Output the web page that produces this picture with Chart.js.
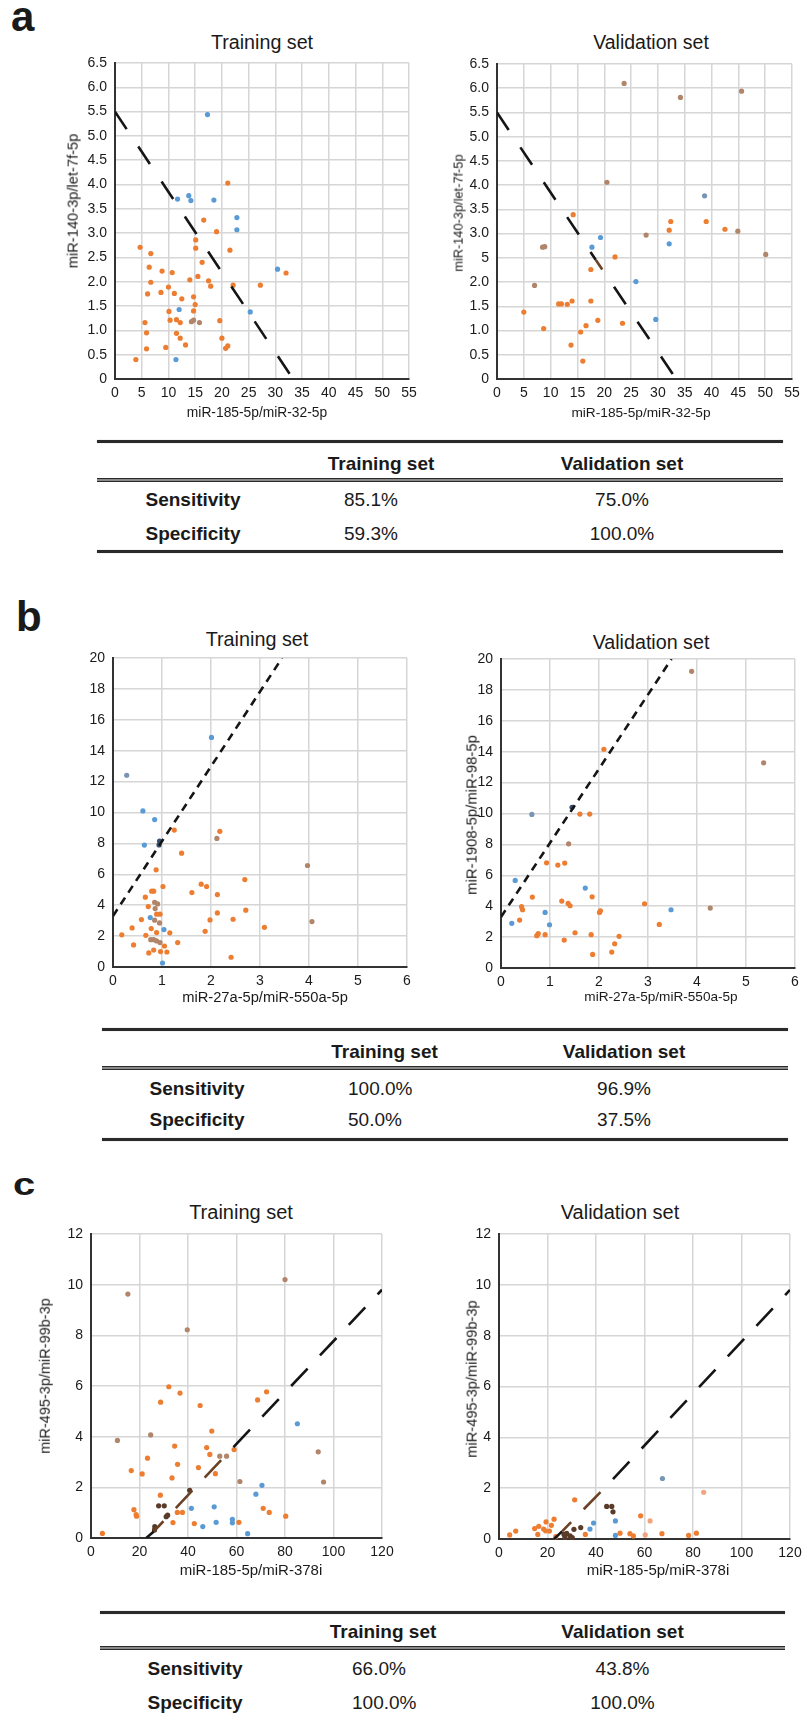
<!DOCTYPE html>
<html><head><meta charset="utf-8">
<script src="https://cdn.jsdelivr.net/npm/chart.js@4.4.1/dist/chart.umd.min.js"></script>
<style>
html,body{margin:0;padding:0;background:#fff}
#page{position:relative;width:802px;height:1718px;overflow:hidden;background:#fff;font-family:"Liberation Sans",Arial,sans-serif;color:#1a1a1a}
#page canvas{position:absolute}
.t{position:absolute;white-space:nowrap;line-height:1}
.hl{position:absolute;box-sizing:border-box}
</style>
</head><body><div id="page"></div>
<script>
// ---------------- DATA ----------------
// Tick labels
const aXTicks = ['0','5','10','15','20','25','30','35','40','45','50','55'];
const aYTicksTrain = ['0','0.5','1.0','1.5','2.0','2.5','3.0','3.5','4.0','4.5','5.0','5.5','6.0','6.5'];
const aYTicksVal = ['0','0.5','1.0','1.5','2.0','5','3.0','3.5','4.0','4.5','5.0','5.5','6.0','6.5'];
const bXTicks = ['0','1','2','3','4','5','6'];
const bYTicks = ['0','2','4','6','8','10','12','14','16','18','20'];
const cXTicks = ['0','20','40','60','80','100','120'];
const cYTicks = ['0','2','4','6','8','10','12'];

// Panel a - training
const aTrainOrangeX = [21.1,16.6,19.0,15.1,15.1,21.5,4.7,6.7,6.4,16.3,8.8,10.7,32.0,14.0,15.5,17.5,6.7,17.9,22.1,27.2,10.0,6.1,8.6,11.1,12.5,14.7,15.0,10.1,14.7,5.6,10.3,11.5,12.2,19.6,5.9,11.5,12.2,20.0,13.2,9.5,5.9,20.7,21.1,3.9];
const aTrainOrangeY = [4.03,3.27,3.03,2.86,2.69,2.65,2.71,2.58,2.30,2.40,2.22,2.19,2.18,2.04,2.11,2.02,1.99,1.91,1.93,1.93,1.89,1.75,1.78,1.76,1.65,1.69,1.53,1.39,1.40,1.16,1.21,1.22,1.16,1.20,0.95,0.94,0.84,0.84,0.70,0.65,0.62,0.63,0.68,0.40];
const aTrainBlueX = [17.3,11.7,13.8,14.2,18.5,22.8,22.8,30.4,25.3,12.0,11.4];
const aTrainBlueY = [5.44,3.70,3.77,3.67,3.68,3.32,3.07,2.26,1.38,1.43,0.40];
const aTrainMutedX = [14.3,14.7,15.8];
const aTrainMutedY = [1.18,1.21,1.16];
const aTrainCutX = [0,33.3];
const aTrainCutY = [5.5,0];

// Panel a - validation
const aValOrangeX = [14.2,32.4,32.1,39.0,42.5,22.0,17.5,5.0,11.5,12.0,13.1,14.0,17.5,8.7,18.8,23.4,16.6,15.6,13.8,16.0];
const aValOrangeY = [3.39,3.25,3.07,3.25,3.09,2.52,2.26,1.38,1.55,1.55,1.54,1.61,1.61,1.04,1.21,1.15,1.10,0.97,0.70,0.37];
const aValBlueX = [17.7,19.3,25.9,32.1,29.6];
const aValBlueY = [2.72,2.92,2.01,2.79,1.23];
const aValMutedX = [23.7,34.2,45.6,20.5,27.8,8.5,8.9,7.0,50.1,44.9];
const aValMutedY = [6.10,5.81,5.94,4.06,2.97,2.72,2.73,1.93,2.57,3.05];
const aValMutedBlueX = [38.7];
const aValMutedBlueY = [3.78];
const aValCutX = [0,18.4,20.0,33.4];
const aValCutY = [5.5,2.46,2.2,0];

// Panel b - training
const bTrainOrangeX = [1.25,2.18,1.40,0.88,2.69,1.02,1.80,1.91,1.61,2.13,0.79,0.83,0.66,0.72,0.89,0.96,2.71,2.13,0.58,1.98,2.45,0.39,0.78,3.09,1.88,0.89,1.16,0.18,0.67,1.32,0.42,1.05,0.83,0.73,0.97,1.10,2.41];
const bTrainOrangeY = [8.86,8.78,7.37,6.29,5.66,5.21,5.36,5.21,4.82,4.69,4.91,4.91,4.52,3.91,3.42,3.42,3.68,3.50,3.07,3.05,3.09,2.53,2.49,2.57,2.31,2.23,2.21,2.08,2.05,1.58,1.43,1.36,1.10,0.91,1.00,0.97,0.63];
const bTrainBlueX = [2.01,0.61,0.85,0.64,0.76,1.04,1.01];
const bTrainBlueY = [14.86,10.1,9.54,7.89,3.2,2.42,0.26];
const bTrainMutedBlueX = [0.28];
const bTrainMutedBlueY = [12.41];
const bTrainDarkX = [0.95,0.94];
const bTrainDarkY = [8.15,7.9];
const bTrainMutedX = [2.12,3.97,4.06,0.85,0.91,0.86,0.85,0.95,0.77,0.83,0.89,0.96];
const bTrainMutedY = [8.32,6.57,2.94,4.19,4.08,3.78,3.03,2.85,1.77,1.77,1.69,1.58];
const bTrainCutX = [0,3.45];
const bTrainCutY = [3.3,20];

// Panel b - validation
const bValOrangeX = [2.10,1.61,1.81,0.93,1.16,1.30,0.64,1.86,1.24,1.37,1.41,0.42,0.44,2.93,2.01,2.03,0.38,3.23,0.73,0.76,0.90,1.51,1.84,2.41,1.29,2.32,2.26,1.87];
const bValOrangeY = [14.16,9.96,9.96,6.81,6.66,6.79,4.59,4.61,4.33,4.18,4.03,3.97,3.77,4.16,3.60,3.70,3.10,2.82,2.09,2.22,2.16,2.28,2.16,2.05,1.81,1.57,1.03,0.88];
const bValBlueX = [0.29,1.72,0.90,0.99,0.22,3.47];
const bValBlueY = [5.67,5.17,3.60,2.80,2.89,3.77];
const bValMutedBlueX = [0.63];
const bValMutedBlueY = [9.94];
const bValDarkX = [1.45];
const bValDarkY = [10.4];
const bValMutedX = [3.89,5.36,1.38,4.27];
const bValMutedY = [19.2,13.28,8.04,3.88];
const bValCutX = [0,3.48];
const bValCutY = [3.3,20];

// Panel c - training
const cTrainOrangeX = [32.1,36.7,28.7,45.0,72.4,68.7,49.8,34.5,47.7,49.0,59.0,23.3,35.7,16.6,21.1,44.3,33.4,51.3,28.6,17.7,18.8,18.6,35.6,37.7,71.0,73.5,80.3,33.8,42.6,61.0,4.7];
const cTrainOrangeY = [5.97,5.72,5.36,5.23,5.77,5.45,4.22,3.63,3.57,3.30,3.49,3.15,2.91,2.66,2.53,2.78,2.37,2.54,1.69,1.12,0.86,0.92,1.01,1.01,1.17,1.01,0.86,0.61,0.57,0.62,0.18];
const cTrainBlueX = [85.1,70.5,68.0,41.4,50.8,51.6,46.1,58.3,58.3,64.6];
const cTrainBlueY = [4.51,2.08,1.73,1.17,1.23,0.62,0.45,0.74,0.60,0.17];
const cTrainMutedX = [15.2,80.0,39.7,10.9,24.6,93.7,95.9,61.4,53.1,55.9];
const cTrainMutedY = [9.63,10.2,8.22,3.85,4.07,3.40,2.21,2.23,3.23,3.23];
const cTrainDarkX = [27.9,30.2,31.0,31.6,26.2,26.3,40.7];
const cTrainDarkY = [1.27,1.27,0.84,0.90,0.32,0.45,1.88];
const cTrainCutX = [22.8,25.9,56.6,120];
const cTrainCutY = [0,0.26,3.37,9.8];

// Panel c - validation
const cValOrangeX = [31.2,58.4,22.7,19.4,21.6,14.7,16.4,18.4,19.2,20.8,6.9,4.4,16.0,23.4,35.6,49.9,54.0,55.4,67.2,78.2,81.4];
const cValOrangeY = [1.54,0.91,0.78,0.67,0.54,0.41,0.50,0.39,0.32,0.31,0.31,0.16,0.18,0.09,0.18,0.23,0.21,0.12,0.21,0.14,0.23];
const cValBlueX = [39.0,37.5,48.0,48.0];
const cValBlueY = [0.63,0.39,0.71,0.14];
const cValMutedBlueX = [67.4];
const cValMutedBlueY = [2.38];
const cValLightX = [62.3,60.3,84.4];
const cValLightY = [0.71,0.16,1.84];
const cValDarkX = [44.4,46.5,47.0,33.7,30.9,26.8,27.9,29.3,30.2,27.2];
const cValDarkY = [1.28,1.28,1.07,0.45,0.38,0.18,0.22,0.12,0.06,0.06];
const cValCutX = [22.7,26.0,45.5,120];
const cValCutY = [0,0.3,2.2,9.8];

// Tables
const tableHeads = ['Training set','Validation set'];
const rowNames = ['Sensitivity','Specificity'];
const aTableTrain = ['85.1%','59.3%'];
const aTableVal = ['75.0%','100.0%'];
const bTableTrain = ['100.0%','50.0%'];
const bTableVal = ['96.9%','37.5%'];
const cTableTrain = ['66.0%','100.0%'];
const cTableVal = ['43.8%','100.0%'];

// ---------------- STYLE ----------------
const FONT = '"Liberation Sans", Arial, sans-serif';
const ORANGE = '#ED7D31', BLUE = '#5B9BD5', MUTED = '#B0856A', MUTEDBLUE = '#7896B4',
      DARKBLUE = '#34506E', DARKBROWN = '#5A3A28', LIGHT = '#F2A47C', CUTBLACK = '#151515', CUTBROWN = '#6B4226';
const page = document.getElementById('page');

function pts(xs, ys){ return xs.map((x,i)=>({x:x, y:ys[i]})); }
function dots(xs, ys, color){
  return {data: pts(xs,ys), backgroundColor: color, borderColor: color, borderWidth: 0,
          pointRadius: 2.6, pointHoverRadius: 2.6, showLine: false, clip: false};
}
function cut(xs, ys, dash, segColors){
  const ds = {data: pts(xs,ys), showLine: true, borderColor: CUTBLACK, borderWidth: 2.6,
              borderDash: dash, pointRadius: 0, pointHoverRadius: 0, borderCapStyle: 'butt', fill: false};
  if (segColors) {
    ds.segment = {
      borderColor: c => segColors[c.p0DataIndex],
      borderDashOffset: c => {
        const m = c.chart.getDatasetMeta(c.datasetIndex).data;
        let d = 0;
        for (let i = 0; i < c.p0DataIndex; i++) d += Math.hypot(m[i+1].x - m[i].x, m[i+1].y - m[i].y);
        return d;
      }
    };
  }
  return ds;
}

function makeChart(rect, xc, yc, datasets){
  const wY = 60, hX = 26, padT = 12, padR = 16, padB = 4;
  const pw = Math.round(rect.x1 - rect.x0), ph = Math.round(rect.y1 - rect.y0);
  const W = pw + wY + padR, H = ph + padT + hX + padB;
  const cv = document.createElement('canvas');
  cv.width = W; cv.height = H;
  cv.style.left = (rect.x0 - wY) + 'px'; cv.style.top = (rect.y0 - padT) + 'px';
  cv.style.width = W + 'px'; cv.style.height = H + 'px';
  page.appendChild(cv);
  const grid = () => ({color: '#d6d6d6', lineWidth: 1.5, drawTicks: false});
  const border = () => ({display: true, color: '#333', width: 2});
  new Chart(cv, {
    type: 'scatter',
    data: {datasets: datasets},
    options: {
      responsive: false, animation: false, devicePixelRatio: 1, events: [],
      layout: {padding: {left: 0, top: padT, right: padR, bottom: padB}},
      plugins: {legend: {display: false}, tooltip: {enabled: false}},
      scales: {
        x: {type: 'linear', position: 'bottom', min: xc.min, max: xc.max,
            grid: grid(), border: border(),
            ticks: {stepSize: xc.step, autoSkip: false, maxRotation: 0, padding: 6, color: '#1a1a1a',
                    font: {family: FONT, size: 14}, callback: (v,i) => xc.labels[i]},
            afterFit: s => { s.height = hX; s.paddingLeft = 0; s.paddingRight = 0; }},
        y: {type: 'linear', position: 'left', min: yc.min, max: yc.max,
            grid: grid(), border: border(),
            ticks: {stepSize: yc.step, autoSkip: false, padding: 8, color: '#1a1a1a',
                    font: {family: FONT, size: 14}, callback: (v,i) => yc.labels[i]},
            afterFit: s => { s.width = wY; s.paddingTop = 0; s.paddingBottom = 0; }}
      }
    }
  });
}

function txt(s, x, y, size, o){
  o = o || {};
  const d = document.createElement('div');
  d.className = 't'; d.textContent = s;
  d.style.left = x + 'px'; d.style.top = y + 'px'; d.style.fontSize = size + 'px';
  if (o.bold) d.style.fontWeight = 'bold';
  let tr = o.left ? 'translate(0,-50%)' : 'translate(-50%,-50%)';
  if (o.rot) tr += ' rotate(-90deg)';
  d.style.transform = tr;
  page.appendChild(d);
  return d;
}
function panelLabel(s, x, baseline, size, sy){
  const d = document.createElement('div');
  d.className = 't'; d.textContent = s;
  d.style.left = x + 'px'; d.style.top = (baseline - 0.8465*size) + 'px';
  d.style.fontSize = size + 'px'; d.style.fontWeight = 'bold';
  if (sy) { d.style.transformOrigin = '0 ' + (0.8465*size) + 'px'; d.style.transform = 'scaleY(' + sy + ')'; }
  page.appendChild(d);
}
function hline(x0, x1, y, th){
  const d = document.createElement('div');
  d.className = 'hl';
  d.style.left = x0 + 'px'; d.style.width = (x1 - x0) + 'px';
  d.style.top = (y - th/2) + 'px'; d.style.height = th + 'px';
  d.style.background = '#2a2a2a';
  d.style.boxShadow = '0 0 1px #888';
  page.appendChild(d);
}
function dline(x0, x1, y){
  const d = document.createElement('div');
  d.className = 'hl';
  d.style.left = x0 + 'px'; d.style.width = (x1 - x0) + 'px';
  d.style.top = (y - 2) + 'px'; d.style.height = '4px';
  d.style.borderTop = '1.5px solid #2a2a2a';
  d.style.borderBottom = '1.5px solid #2a2a2a';
  d.style.background = '#8a8a8a';
  page.appendChild(d);
}
function table(t, trainVals, valVals){
  hline(t.x0, t.x1, t.top, 3);
  txt(tableHeads[0], t.hTrain, t.head, 19, {bold: true});
  txt(tableHeads[1], t.vVal, t.head, 19, {bold: true});
  dline(t.x0, t.x1, t.dbl);
  [t.r1, t.r2].forEach((ry, i) => {
    txt(rowNames[i], t.lab, ry, 19, {bold: true});
    txt(trainVals[i], t.vTrainL, ry, 19, {left: true});
    txt(valVals[i], t.vVal, ry, 19);
  });
  if (t.bottom) hline(t.x0, t.x1, t.bottom, 3);
}

// ---------------- PANEL a ----------------
panelLabel('a', 11, 32, 42);
txt('Training set', 262, 43, 19.7);
txt('Validation set', 651, 43, 19.5);
makeChart({x0:115, x1:409, y0:63, y1:379},
  {min:0, max:55, step:5, labels:aXTicks}, {min:0, max:6.5, step:0.5, labels:aYTicksTrain},
  [cut(aTrainCutX, aTrainCutY, [21,21]),
   dots(aTrainBlueX, aTrainBlueY, BLUE), dots(aTrainMutedX, aTrainMutedY, MUTED),
   dots(aTrainOrangeX, aTrainOrangeY, ORANGE)]);
makeChart({x0:497, x1:792, y0:64, y1:379},
  {min:0, max:55, step:5, labels:aXTicks}, {min:0, max:6.5, step:0.5, labels:aYTicksVal},
  [cut(aValCutX, aValCutY, [21,21], [CUTBLACK, CUTBROWN, CUTBLACK]),
   dots(aValMutedBlueX, aValMutedBlueY, MUTEDBLUE), dots(aValMutedX, aValMutedY, MUTED),
   dots(aValBlueX, aValBlueY, BLUE), dots(aValOrangeX, aValOrangeY, ORANGE)]);
txt('miR-185-5p/miR-32-5p', 257, 413, 13.8);
txt('miR-185-5p/miR-32-5p', 641, 413, 13.7);
txt('miR-140-3p/let-7f-5p', 72.5, 201, 14.7, {rot: true});
txt('miR-140-3p/let-7f-5p', 459, 213, 12.8, {rot: true});
table({x0:97, x1:783, top:441.7, head:462.7, dbl:480, r1:499, r2:532.7, bottom:551.7,
       lab:193, hTrain:381, vTrainL:344, vVal:622}, aTableTrain, aTableVal);

// ---------------- PANEL b ----------------
panelLabel('b', 16, 632, 42);
txt('Training set', 257, 640, 19.8);
txt('Validation set', 651, 643, 19.7);
makeChart({x0:113, x1:407, y0:658, y1:967},
  {min:0, max:6, step:1, labels:bXTicks}, {min:0, max:20, step:2, labels:bYTicks},
  [cut(bTrainCutX, bTrainCutY, [8,6]),
   dots(bTrainDarkX, bTrainDarkY, DARKBLUE), dots(bTrainMutedBlueX, bTrainMutedBlueY, MUTEDBLUE),
   dots(bTrainBlueX, bTrainBlueY, BLUE), dots(bTrainMutedX, bTrainMutedY, MUTED),
   dots(bTrainOrangeX, bTrainOrangeY, ORANGE)]);
makeChart({x0:501, x1:795, y0:659, y1:968},
  {min:0, max:6, step:1, labels:bXTicks}, {min:0, max:20, step:2, labels:bYTicks},
  [cut(bValCutX, bValCutY, [8,6]),
   dots(bValDarkX, bValDarkY, DARKBLUE), dots(bValMutedBlueX, bValMutedBlueY, MUTEDBLUE),
   dots(bValBlueX, bValBlueY, BLUE), dots(bValMutedX, bValMutedY, MUTED),
   dots(bValOrangeX, bValOrangeY, ORANGE)]);
txt('miR-27a-5p/miR-550a-5p', 265, 997, 14.7);
txt('miR-27a-5p/miR-550a-5p', 661, 997, 13.6);
txt('miR-1908-5p/miR-98-5p', 472, 815, 14.9, {rot: true});
table({x0:102, x1:788, top:1029, head:1050.7, dbl:1068, r1:1088, r2:1118.5, bottom:1139,
       lab:197, hTrain:384.5, vTrainL:348, vVal:624}, bTableTrain, bTableVal);

// ---------------- PANEL c ----------------
panelLabel('c', 13, 1195, 40, 0.8);
txt('Training set', 241, 1212, 20);
txt('Validation set', 620, 1212, 20);
makeChart({x0:91, x1:382, y0:1234, y1:1538},
  {min:0, max:120, step:20, labels:cXTicks}, {min:0, max:12, step:2, labels:cYTicks},
  [cut(cTrainCutX, cTrainCutY, [24,18], [CUTBLACK, CUTBROWN, CUTBLACK]),
   dots(cTrainDarkX, cTrainDarkY, DARKBROWN), dots(cTrainBlueX, cTrainBlueY, BLUE),
   dots(cTrainMutedX, cTrainMutedY, MUTED), dots(cTrainOrangeX, cTrainOrangeY, ORANGE)]);
makeChart({x0:499, x1:790, y0:1234, y1:1539},
  {min:0, max:120, step:20, labels:cXTicks}, {min:0, max:12, step:2, labels:cYTicks},
  [cut(cValCutX, cValCutY, [24,18], [CUTBLACK, CUTBROWN, CUTBLACK]),
   dots(cValDarkX, cValDarkY, DARKBROWN), dots(cValMutedBlueX, cValMutedBlueY, MUTEDBLUE),
   dots(cValBlueX, cValBlueY, BLUE), dots(cValLightX, cValLightY, LIGHT),
   dots(cValOrangeX, cValOrangeY, ORANGE)]);
txt('miR-185-5p/miR-378i', 251, 1569, 15);
txt('miR-185-5p/miR-378i', 658, 1569, 15);
txt('miR-495-3p/miR-99b-3p', 44.5, 1376, 14.5, {rot: true});
txt('miR-495-3p/miR-99b-3p', 472, 1379, 14.7, {rot: true});
table({x0:100, x1:785, top:1612, head:1631, dbl:1648, r1:1668, r2:1702,
       lab:195, hTrain:383, vTrainL:352, vVal:622.5}, cTableTrain, cTableVal);
</script>
</body></html>
